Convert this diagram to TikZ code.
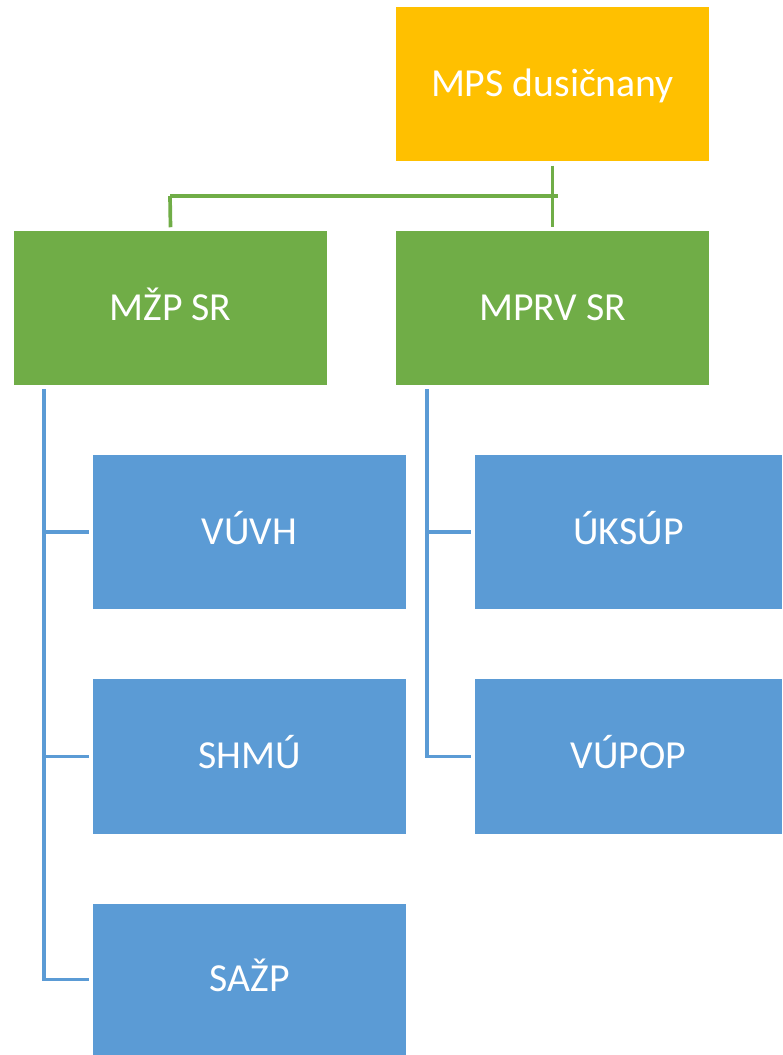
\documentclass[tikz,border=0pt]{standalone}
\usepackage{fontspec}
\setmainfont{Carlito}
\definecolor{orangeb}{HTML}{FFC000}
\definecolor{greenb}{HTML}{70AD47}
\definecolor{blueb}{HTML}{5B9BD5}
\begin{document}
\begin{tikzpicture}[x=0.01cm,y=-0.01cm,
  box/.style={minimum width=3.13cm,minimum height=1.54cm,inner sep=0pt,text=white,text height=8pt,text depth=1pt,font=\fontsize{11.3}{13}\selectfont},
  gline/.style={draw=greenb,line width=1.05pt},
  bline/.style={draw=blueb,line width=1.05pt}]
\useasboundingbox (0,0) rectangle (782,1055);
\node[box,fill=orangeb] (mps) at (552.5,84) {MPS dusičnany};
\node[box,fill=greenb] (mzp) at (170.5,308) {MŽP SR};
\node[box,fill=greenb] (mprv) at (552.5,308) {MPRV SR};
\node[box,fill=blueb] (vuvh) at (249.5,532) {VÚVH};
\node[box,fill=blueb] (shmu) at (249.5,756.5) {SHMÚ};
\node[box,fill=blueb,minimum height=1.51cm] (sazp) at (249.5,979.5) {SAŽP};
\node[box,fill=blueb,minimum width=3.07cm] (uksup) at (628.5,532) {ÚKSÚP};
\node[box,fill=blueb,minimum width=3.07cm] (vupop) at (628.5,756.5) {VÚPOP};
\coordinate (hr) at (558,196);
\coordinate (hl) at (170,196);
\draw[gline] ([yshift=-0.04cm]mps.south) -- ([yshift=0.03cm]mprv.north);
\draw[gline] (hl) -- (hr);
\draw[gline] (hl) -- ([yshift=0.03cm]mzp.north);
\coordinate (l0) at (44,389);
\coordinate (r0) at (427,389);
\draw[bline] (l0) |- ([xshift=-0.03cm]sazp.west);
\draw[bline] (l0 |- vuvh.west) -- ([xshift=-0.03cm]vuvh.west);
\draw[bline] (l0 |- shmu.west) -- ([xshift=-0.03cm]shmu.west);
\draw[bline] (r0) |- ([xshift=-0.03cm]vupop.west);
\draw[bline] (r0 |- uksup.west) -- ([xshift=-0.03cm]uksup.west);
\end{tikzpicture}
\end{document}
